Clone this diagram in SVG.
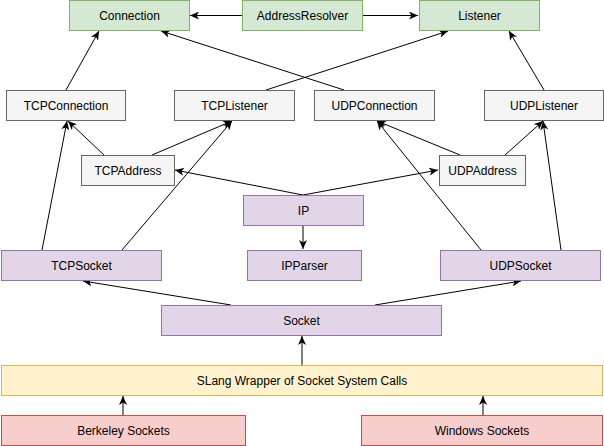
<svg xmlns="http://www.w3.org/2000/svg" width="604" height="446" viewBox="0 0 604 446">
<defs>
<marker id="arr" markerUnits="userSpaceOnUse" markerWidth="10" markerHeight="8" refX="9" refY="4" orient="auto">
<path d="M0,0 L9,4 L0,8 L2.5,4 Z" fill="#000"/>
</marker>
</defs>
<style>
rect{stroke-width:1}
.g{fill:#d5e8d4;stroke:#82b366}
.w{fill:#f5f5f5;stroke:#666666}
.p{fill:#e1d5e7;stroke:#9673a6}
.y{fill:#fff2cc;stroke:#d6b656}
.r{fill:#f8cecc;stroke:#b85450}
text{font-family:"Liberation Sans",Arial,Helvetica,sans-serif;font-size:12px;fill:#000;text-anchor:middle;dominant-baseline:central}
.c line{stroke:#000;stroke-width:1;marker-end:url(#arr)}
</style>
<g class="c" id="connectors">
<line x1="242" y1="15.5" x2="190" y2="15.5"/>
<line x1="363" y1="15.5" x2="418" y2="15.5"/>
<line x1="66" y1="90" x2="99" y2="31"/>
<line x1="344" y1="90" x2="161" y2="31"/>
<line x1="266" y1="90" x2="448" y2="31"/>
<line x1="544" y1="90" x2="509" y2="31"/>
<line x1="104" y1="155" x2="68" y2="121"/>
<line x1="42" y1="250" x2="67" y2="121"/>
<line x1="152" y1="155" x2="232" y2="121"/>
<line x1="122" y1="250" x2="232" y2="121"/>
<line x1="460" y1="155" x2="377" y2="121"/>
<line x1="481" y1="250" x2="377" y2="121"/>
<line x1="505" y1="155" x2="543" y2="121"/>
<line x1="561" y1="250" x2="543" y2="121"/>
<line x1="303" y1="195" x2="175" y2="170"/>
<line x1="303" y1="195" x2="438" y2="170"/>
<line x1="303" y1="225" x2="303" y2="249"/>
<line x1="231" y1="305" x2="83" y2="281"/>
<line x1="375" y1="305" x2="521" y2="281"/>
<line x1="302" y1="365" x2="302" y2="336"/>
<line x1="123" y1="415" x2="123" y2="396"/>
<line x1="483" y1="415" x2="483" y2="396"/>
</g>
<g id="Connection"><rect class="g" x="69.5" y="0.5" width="120" height="30"/><text x="129.5" y="15.5">Connection</text></g>
<g id="AddressResolver"><rect class="g" x="242.5" y="0.5" width="120" height="30"/><text x="302.5" y="15.5">AddressResolver</text></g>
<g id="Listener"><rect class="g" x="419.5" y="0.5" width="120" height="30"/><text x="479.5" y="15.5">Listener</text></g>
<g id="TCPConnection"><rect class="w" x="6.5" y="90.5" width="119" height="30"/><text x="66" y="105.5">TCPConnection</text></g>
<g id="TCPListener"><rect class="w" x="174.5" y="90.5" width="120" height="30"/><text x="234.5" y="105.5">TCPListener</text></g>
<g id="UDPConnection"><rect class="w" x="314.5" y="90.5" width="120" height="30"/><text x="374.5" y="105.5">UDPConnection</text></g>
<g id="UDPListener"><rect class="w" x="484.5" y="90.5" width="119" height="30"/><text x="544" y="105.5">UDPListener</text></g>
<g id="TCPAddress"><rect class="w" x="81.5" y="155.5" width="93" height="30"/><text x="128" y="170.5">TCPAddress</text></g>
<g id="UDPAddress"><rect class="w" x="439.5" y="155.5" width="86" height="30"/><text x="482.5" y="170.5">UDPAddress</text></g>
<g id="IP"><rect class="p" x="243.5" y="195.5" width="120" height="30"/><text x="303.5" y="210.5">IP</text></g>
<g id="TCPSocket"><rect class="p" x="1.5" y="250.5" width="160" height="30"/><text x="81.5" y="265.5">TCPSocket</text></g>
<g id="IPParser"><rect class="p" x="247.5" y="250.5" width="114" height="30"/><text x="304.5" y="265.5">IPParser</text></g>
<g id="UDPSocket"><rect class="p" x="440.5" y="250.5" width="160" height="30"/><text x="520.5" y="265.5">UDPSocket</text></g>
<g id="Socket"><rect class="p" x="161.5" y="305.5" width="280" height="30"/><text x="301.5" y="320.5">Socket</text></g>
<g id="SLang"><rect class="y" x="1.5" y="365.5" width="601" height="30"/><text x="302" y="380.5">SLang Wrapper of Socket System Calls</text></g>
<g id="Berkeley"><rect class="r" x="1.5" y="415.5" width="244" height="30"/><text x="123.5" y="430.5">Berkeley Sockets</text></g>
<g id="Windows"><rect class="r" x="361.5" y="415.5" width="241" height="30"/><text x="482" y="430.5">Windows Sockets</text></g>
</svg>
